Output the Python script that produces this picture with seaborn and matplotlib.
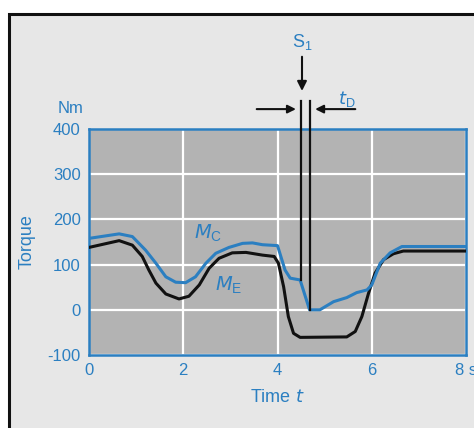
import numpy as np
import pandas as pd
import matplotlib
matplotlib.use('Agg')
import matplotlib.pyplot as plt
from matplotlib.patches import Rectangle
import seaborn as sns

# Data (time in s, torque in Nm)

t_c = [0.0, 0.64, 0.92, 1.2, 1.42, 1.63, 1.84, 2.05, 2.26, 2.48, 2.69, 2.97, 3.26, 3.47, 3.68, 4.0,
       4.16, 4.27, 4.48, 4.68, 4.9, 5.19, 5.47, 5.68, 5.9, 6.0, 6.18, 6.39, 6.64, 8.0]
m_c = [158, 168, 162, 132, 103, 73, 61, 60, 73, 103, 125, 138, 147, 148, 144, 142,
       88, 70, 66, 0, 0, 18, 27, 38, 44, 55, 103, 126, 140, 140]

t_e = [0.0, 0.64, 0.92, 1.13, 1.27, 1.42, 1.63, 1.91, 2.12, 2.34, 2.55, 2.76, 3.04, 3.33, 3.68, 3.93,
       4.02, 4.13, 4.23, 4.34, 4.48, 5.47, 5.65, 5.79, 5.93, 6.07, 6.25, 6.46, 6.67, 8.0]
m_e = [138, 153, 143, 118, 88, 59, 35, 24, 30, 55, 92, 114, 126, 127, 121, 118,
       103, 51, -15, -52, -61, -60, -48, -15, 36, 81, 111, 124, 130, 130]

s1_times = [4.49, 4.69]
s1_bottoms = [66, 0]

x_ticks = [0, 2, 4, 6, 8]
x_labels = ['0', '2', '4', '6', '8 s']
y_ticks = [-100, 0, 100, 200, 300, 400]

blue = '#2b7fc1'
plt.rcParams['font.family'] = ['Liberation Sans', 'DejaVu Sans']
plt.rcParams['axes.unicode_minus'] = False

curve_c = pd.DataFrame({'t': t_c, 'M': m_c})
curve_e = pd.DataFrame({'t': t_e, 'M': m_e})

fig = plt.figure(figsize=(4.74, 4.28), dpi=100)
fig.patch.set_facecolor('white')
# outer panel frame
fig.patches.append(Rectangle((9 / 474, -0.05), 1.2, 1 - 14 / 428 + 0.05,
                             transform=fig.transFigure, facecolor='#e7e7e7',
                             edgecolor='#111111', linewidth=2.2, zorder=-10))

ax = fig.add_axes([89 / 474, 1 - 355 / 428, 377 / 474, 226 / 428])
ax.set_facecolor('#b3b3b3')
sns.lineplot(ax=ax, data=curve_e, x='t', y='M', color='#111111', linewidth=2.2, zorder=3,
             solid_joinstyle='round')
sns.lineplot(ax=ax, data=curve_c, x='t', y='M', color=blue, linewidth=2.2, zorder=4,
             solid_joinstyle='round')

ax.set_xlim(0, 8)
ax.set_ylim(-100, 400)
ax.set_xticks(x_ticks)
ax.set_xticklabels(x_labels)
ax.set_yticks(y_ticks)
ax.grid(True, color='white', linewidth=1.6)
ax.set_axisbelow(True)
for s in ax.spines.values():
    s.set_color(blue)
    s.set_linewidth(1.8)
ax.tick_params(length=0, colors=blue, labelsize=12, pad=6)
ax.set_xlabel('Time $t$', color=blue, fontsize=13, labelpad=8)
ax.set_ylabel('Torque', color=blue, fontsize=13)
ax.yaxis.set_label_coords(-0.142, 0.5)
ax.text(-0.015, 1.09, 'Nm', transform=ax.transAxes, color=blue, fontsize=12,
        ha='right', va='center')

# switching lines S1 and dead time tD
for tx, yb in zip(s1_times, s1_bottoms):
    ax.plot([tx, tx], [yb, 462], color='#111111', linewidth=1.6, clip_on=False, zorder=5)
ax.annotate('', xy=(4.52, 478), xytext=(4.52, 566), annotation_clip=False,
            arrowprops=dict(arrowstyle='-|>', color='#111111', lw=1.5, mutation_scale=14))
ax.text(4.52, 592, '$\\mathregular{S_1}$', color=blue, fontsize=13, ha='center',
        va='center', clip_on=False)
ax.annotate('', xy=(4.45, 444), xytext=(3.5, 444), annotation_clip=False,
            arrowprops=dict(arrowstyle='-|>', color='#111111', lw=1.5, mutation_scale=12))
ax.annotate('', xy=(4.74, 444), xytext=(5.71, 444), annotation_clip=False,
            arrowprops=dict(arrowstyle='-|>', color='#111111', lw=1.5, mutation_scale=12))
ax.text(5.47, 466, '$t_\\mathregular{D}$', color=blue, fontsize=13, ha='center',
        va='center', clip_on=False)

ax.text(2.53, 170, '$M_\\mathregular{C}$', color=blue, fontsize=14, ha='center', va='center')
ax.text(2.97, 55, '$M_\\mathregular{E}$', color=blue, fontsize=14, ha='center', va='center')

plt.savefig('out.png', dpi=100)
